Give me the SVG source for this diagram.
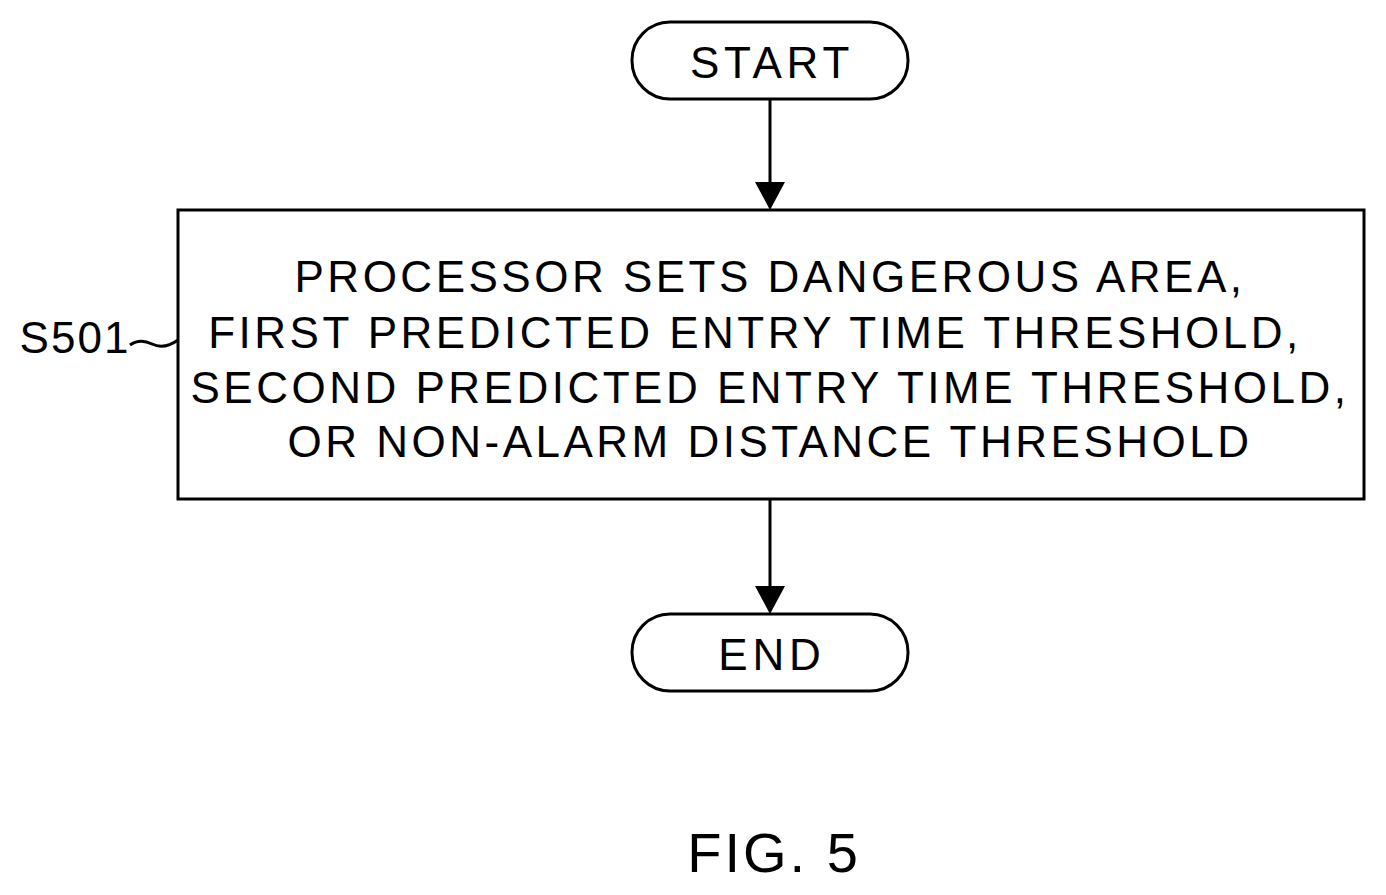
<svg xmlns="http://www.w3.org/2000/svg" width="1386" height="895" viewBox="0 0 1386 895">
<defs><style>.s{fill:#fff;stroke:#000;stroke-width:3}.t{font-family:"Liberation Sans",Arial,sans-serif;font-size:44px;letter-spacing:3.5px;fill:#000;text-anchor:middle}.c{stroke:#000;stroke-width:3;fill:none}</style></defs>
<rect width="1386" height="895" fill="#fff"/>
<g id="start"><rect class="s" x="632" y="22" width="276" height="77" rx="38"/><text class="t" x="772" y="78" style="letter-spacing:4.8px">START</text></g>
<g id="s501"><rect class="s" x="178" y="210" width="1186" height="289"/>
<text class="t" x="770" y="292">PROCESSOR SETS DANGEROUS AREA,</text>
<text class="t" x="755" y="348">FIRST PREDICTED ENTRY TIME THRESHOLD,</text>
<text class="t" x="770" y="403">SECOND PREDICTED ENTRY TIME THRESHOLD,</text>
<text class="t" x="770" y="457">OR NON-ALARM DISTANCE THRESHOLD</text></g>
<g id="label"><text class="t" x="75" y="353" style="letter-spacing:2px">S501</text><path class="c" stroke-width="2" d="M130,345 Q140,338 152,344 Q164,350 178,340"/></g>
<g id="end"><rect class="s" x="632" y="614" width="276" height="77" rx="38"/><text class="t" x="772" y="670" style="letter-spacing:4.8px">END</text></g>
<g id="connectors"><line class="c" x1="770" y1="99" x2="770" y2="184"/><line class="c" x1="770" y1="499" x2="770" y2="588"/>
<path d="M755,182 L785,182 L770,210 Z" fill="#000"/><path d="M755,586 L785,586 L770,614 Z" fill="#000"/></g>
<text class="t" x="774" y="872" style="font-size:56px;letter-spacing:3px">FIG. 5</text>
</svg>
